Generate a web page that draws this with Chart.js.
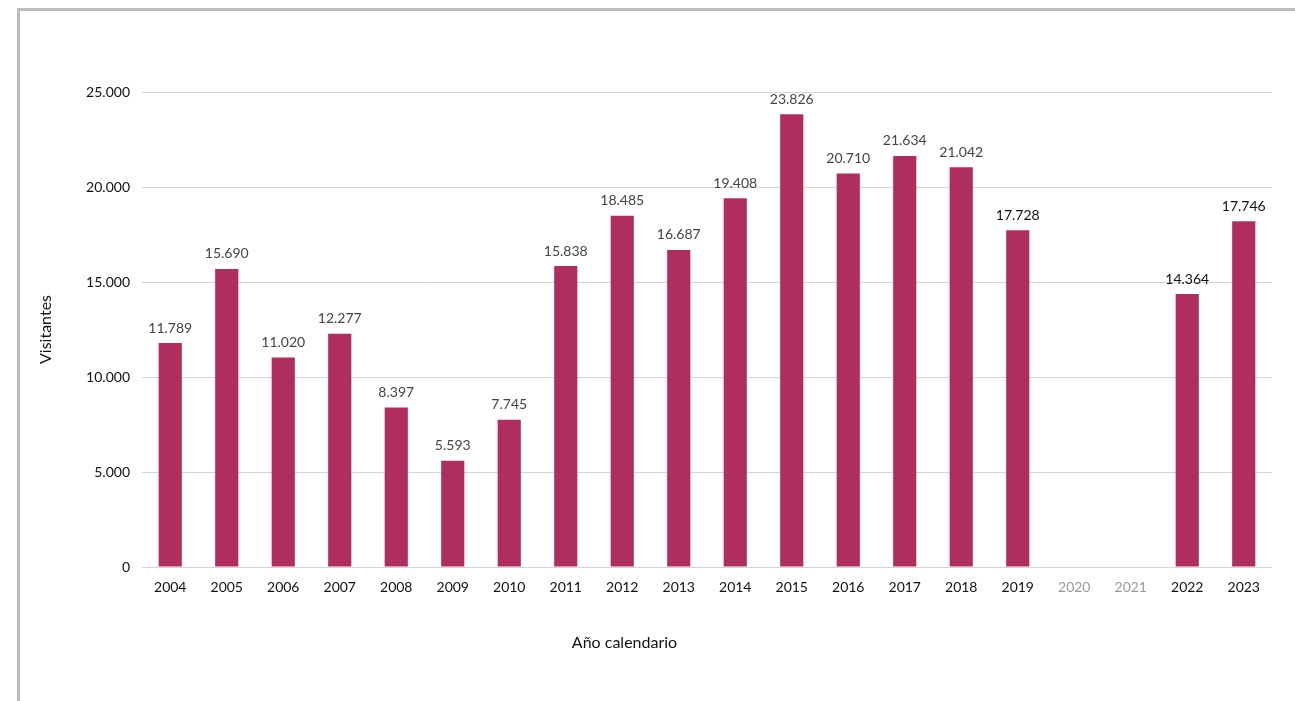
<!DOCTYPE html>
<html>
<head>
<meta charset="utf-8">
<script src="https://cdn.jsdelivr.net/npm/chart.js@4"></script>
<style>
 html, body { margin: 0; padding: 0; background: #fff; }
 .wrap { position: relative; width: 1295px; height: 701px; }
 .frame { position: absolute; left: 17px; top: 8px; right: 0; bottom: 0; border-left: 3px solid #bcbcbc; border-top: 3px solid #bcbcbc; }
 canvas { position: absolute; left: 0; top: 0; }
</style>
</head>
<body>
<div class="wrap">
 <div class="frame"></div>
 <canvas id="chart" width="1295" height="701"></canvas>
</div>
<script>
/* ── DATA ───────────────────────────────────────────── */
const years = ['2004','2005','2006','2007','2008','2009','2010','2011','2012','2013','2014','2015','2016','2017','2018','2019','2020','2021','2022','2023'];
const visitors = [11789, 15690, 11020, 12277, 8397, 5593, 7745, 15838, 18485, 16687, 19408, 23826, 20710, 21634, 21042, 17728, null, null, 14364, 18200];
const valueLabels = ['11.789','15.690','11.020','12.277','8.397','5.593','7.745','15.838','18.485','16.687','19.408','23.826','20.710','21.634','21.042','17.728','','','14.364','17.746'];
const yTicks = [0, 5000, 10000, 15000, 20000, 25000];

const FONT = 'Lato, "Open Sans", sans-serif';
const darkLabels = ['2019', '2022', '2023'];
const greyTicks = ['2020', '2021'];

const fmt = v => String(v).replace(/\B(?=(\d{3})+(?!\d))/g, '.');

/* ── VALUE LABELS + X TITLE ─────────────────────────── */
const valueLabelPlugin = {
 id: 'valueLabels',
 afterDatasetsDraw(chart) {
 const ctx = chart.ctx;
 const meta = chart.getDatasetMeta(0);
 ctx.save();
 ctx.font = '14px ' + FONT;
 ctx.textAlign = 'center';
 ctx.textBaseline = 'middle';
 meta.data.forEach((bar, i) => {
 if (visitors[i] == null) return;
 ctx.fillStyle = darkLabels.includes(years[i]) ? '#111' : '#444';
 ctx.fillText(valueLabels[i], bar.x, bar.y - 15);
 });
 // x axis title sits left of centre in the original
 const a = chart.chartArea;
 ctx.font = '16px ' + FONT;
 ctx.fillStyle = '#111';
 ctx.fillText('Año calendario', a.left + (a.right - a.left) * 0.427, a.bottom + 76);
 ctx.restore();
 }
};

new Chart(document.getElementById('chart').getContext('2d'), {
 type: 'bar',
 data: {
 labels: years,
 datasets: [{
 data: visitors,
 backgroundColor: '#b02e5f',
 barPercentage: 0.41,
 categoryPercentage: 1
 }]
 },
 options: {
 responsive: false,
 animation: false,
 layout: { padding: { top: 92, right: 23, left: 0, bottom: 0 } },
 plugins: { legend: { display: false }, tooltip: { enabled: false } },
 scales: {
 x: {
 grid: { display: false, drawTicks: false },
 border: { display: false },
 ticks: {
 padding: 12,
 font: { family: FONT, size: 14 },
 color: ctx => greyTicks.includes(years[ctx.index]) ? '#999' : '#111'
 },
 afterFit: s => { s.height = 134; }
 },
 y: {
 min: 0, max: 25000,
 afterBuildTicks: s => { s.ticks = yTicks.map(v => ({ value: v })); },
 grid: { color: '#d4d4d4', drawTicks: false },
 border: { display: false },
 ticks: {
 padding: 12,
 font: { family: FONT, size: 14 },
 color: '#111',
 callback: v => fmt(v)
 },
 title: {
 display: true, text: 'Visitantes', color: '#111',
 font: { family: FONT, size: 16 }, padding: { top: 36 }
 },
 afterFit: s => { s.width = 142; }
 }
 }
 },
 plugins: [valueLabelPlugin]
});
</script>
</body>
</html>
